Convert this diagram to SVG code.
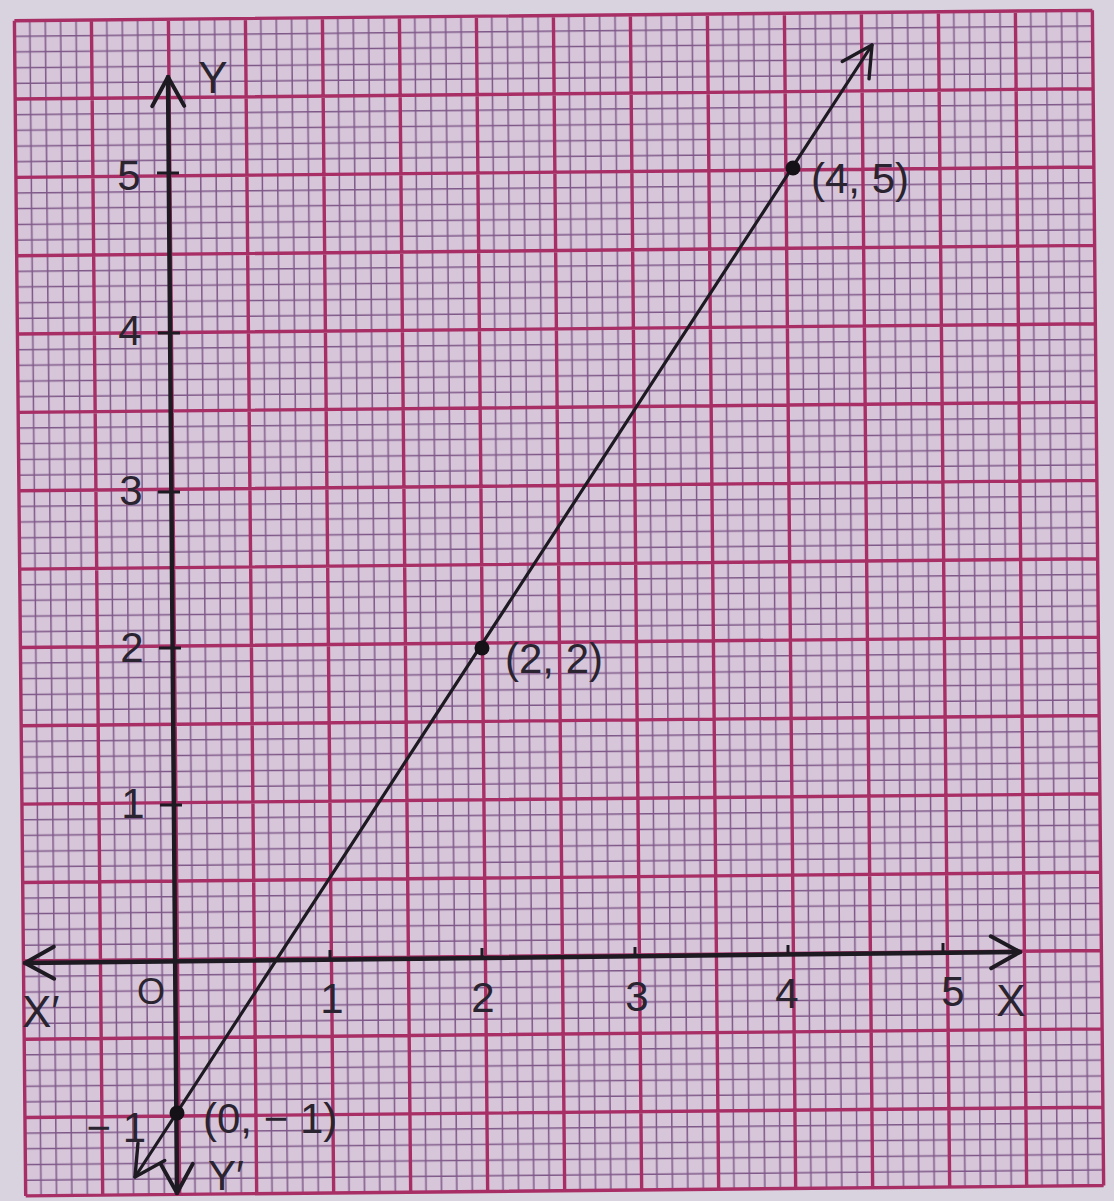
<svg xmlns="http://www.w3.org/2000/svg" width="1114" height="1201" viewBox="0 0 1114 1201">
<style>
.lbl{font-family:"Liberation Sans",Arial,sans-serif;font-size:42px;fill:#2a2430}
.let{font-family:"Liberation Sans",Arial,sans-serif;font-size:44px;fill:#2a2430}
.axis{stroke:#1d1a22;stroke-width:4.5;fill:none;stroke-linecap:round}
.plot{stroke:#1d1a22;stroke-width:3.2;fill:none;stroke-linecap:round}
.tick{stroke:#1d1a22;stroke-width:3;fill:none}
.dot{fill:#141216}
</style>
<defs>
<pattern id="minor" x="20" y="15.5" width="77" height="78.35" patternUnits="userSpaceOnUse">
<path d="M15.4 0V78.35M30.8 0V78.35M46.2 0V78.35M61.6 0V78.35M0 15.67H77M0 31.34H77M0 47.01H77M0 62.68H77" stroke="#7e5888" stroke-width="1.5" fill="none"/>
</pattern>
<marker id="arrA" viewBox="-40 -25 50 50" markerWidth="50" markerHeight="50" refX="0" refY="0" orient="auto-start-reverse" markerUnits="userSpaceOnUse">
<path d="M-29 -16 L0 0 L-29 16" fill="none" stroke="#1d1a22" stroke-width="4" stroke-linecap="round" stroke-linejoin="round"/>
</marker>
<marker id="arrP" viewBox="-40 -25 50 50" markerWidth="50" markerHeight="50" refX="0" refY="0" orient="auto-start-reverse" markerUnits="userSpaceOnUse">
<path d="M-30 -16 L0 0 L-30 16" fill="none" stroke="#1d1a22" stroke-width="3.4" stroke-linecap="round" stroke-linejoin="round"/>
</marker>
</defs>
<rect x="0" y="0" width="1114" height="1201" fill="#d8d3de"/>
<g id="graph-paper" transform="rotate(-0.55 557 600)">
<rect x="20" y="15.5" width="1078" height="1175.25" fill="#d7c6da"/>
<rect x="20" y="15.5" width="1078" height="1175.25" fill="url(#minor)"/>
<path stroke="#a82e66" stroke-width="3.4" fill="none" d="M20 15.5V1190.75M97 15.5V1190.75M174 15.5V1190.75M251 15.5V1190.75M328 15.5V1190.75M405 15.5V1190.75M482 15.5V1190.75M559 15.5V1190.75M636 15.5V1190.75M713 15.5V1190.75M790 15.5V1190.75M867 15.5V1190.75M944 15.5V1190.75M1021 15.5V1190.75M1098 15.5V1190.75M20 15.5H1098M20 93.85H1098M20 172.2H1098M20 250.55H1098M20 328.9H1098M20 407.25H1098M20 485.6H1098M20 563.95H1098M20 642.3H1098M20 720.65H1098M20 799H1098M20 877.35H1098M20 955.7H1098M20 1034.05H1098M20 1112.4H1098M20 1190.75H1098"/>
</g>
<g id="connectors">
<line id="x-axis" class="axis" x1="25" y1="963" x2="1020" y2="952" marker-start="url(#arrA)" marker-end="url(#arrA)"/>
<line id="y-axis" class="axis" x1="177" y1="1193" x2="168" y2="77" marker-start="url(#arrA)" marker-end="url(#arrA)"/>
<line id="plot-line" class="plot" x1="135" y1="1177" x2="872" y2="45" marker-start="url(#arrP)" marker-end="url(#arrP)"/>
<path class="tick" d="M157 173H179M158 333H180M158 492H180M159 648H181M160 805H182M330 950V961M482 948V960M635 947V958M788 945V956M943 943V955"/>
</g>
<g id="point-0-m1"><circle class="dot" cx="177" cy="1113" r="7.5"/><text class="lbl" x="203" y="1133">(0, − 1)</text></g>
<g id="point-2-2"><circle class="dot" cx="482" cy="648" r="7.5"/><text class="lbl" x="505" y="673">(2, 2)</text></g>
<g id="point-4-5"><circle class="dot" cx="793" cy="168" r="7.5"/><text class="lbl" x="811" y="193">(4, 5)</text></g>
<g id="axis-labels">
<text class="let" x="213" y="93" text-anchor="middle">Y</text>
<text class="lbl" x="208" y="1190">Y′</text>
<text class="let" x="1011" y="1016" text-anchor="middle">X</text>
<text class="let" x="22" y="1027">X′</text>
<text class="lbl" x="151" y="1004" text-anchor="middle" style="font-size:36px">O</text>
</g>
<g id="x-ticks-labels">
<text class="lbl" x="332" y="1013" text-anchor="middle">1</text>
<text class="lbl" x="483" y="1012" text-anchor="middle">2</text>
<text class="lbl" x="637" y="1011" text-anchor="middle">3</text>
<text class="lbl" x="787" y="1008" text-anchor="middle">4</text>
<text class="lbl" x="953" y="1006" text-anchor="middle">5</text>
</g>
<g id="y-ticks-labels">
<text class="lbl" x="129" y="190" text-anchor="middle">5</text>
<text class="lbl" x="130" y="345" text-anchor="middle">4</text>
<text class="lbl" x="131" y="505" text-anchor="middle">3</text>
<text class="lbl" x="132" y="662" text-anchor="middle">2</text>
<text class="lbl" x="133" y="818" text-anchor="middle">1</text>
<text class="lbl" x="146" y="1142" text-anchor="end">− 1</text>
</g>
</svg>
